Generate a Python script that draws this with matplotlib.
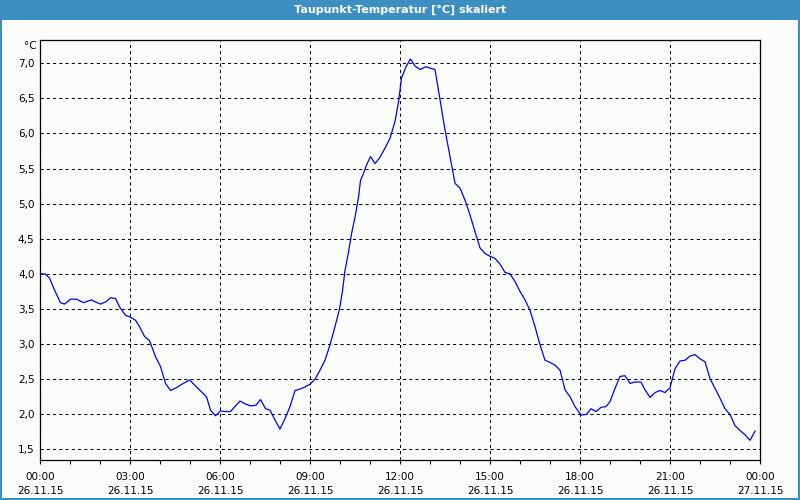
import matplotlib
matplotlib.use("Agg")
import matplotlib.pyplot as plt
from matplotlib.patches import Rectangle
from matplotlib.ticker import FixedLocator, FuncFormatter, MultipleLocator

TITLE = "Taupunkt-Temperatur [°C] skaliert"
UNIT = "°C"

# minutes since 26.11.15 00:00
minutes = [
    0, 10, 19, 29, 41, 49, 61, 73, 87, 103, 111, 121, 131, 141, 151, 159,
    171, 179, 191, 199, 209, 219, 231, 241, 251, 261, 273, 284, 299, 313,
    326, 333, 341, 351, 361, 369, 381, 390, 400, 410, 421, 432, 441, 451,
    460, 470, 480, 490, 500, 510, 520, 530, 540, 550, 560, 570, 580, 590,
    599, 605, 610, 617, 623, 630, 637, 641, 647, 653, 661, 670, 680, 690,
    700, 710, 717, 723, 732, 741, 750, 760, 772, 780, 790, 800, 810, 820,
    830, 840, 850, 860, 870, 880, 890, 900, 910, 920, 930, 940, 950, 960,
    970, 980, 990, 1000, 1010, 1020, 1030, 1040, 1050, 1060, 1070, 1082,
    1093, 1102, 1112, 1122, 1132, 1140, 1150, 1160, 1170, 1180, 1190, 1202,
    1210, 1220, 1230, 1240, 1250, 1260, 1270, 1280, 1290, 1300, 1310, 1320,
    1330, 1340, 1350, 1360, 1370, 1380, 1390, 1400, 1410, 1420, 1430,
]
dewpoint = [
    4.00, 4.00, 3.94, 3.77, 3.59, 3.57, 3.64, 3.64, 3.59, 3.63, 3.60, 3.57,
    3.60, 3.66, 3.65, 3.53, 3.41, 3.39, 3.34, 3.25, 3.11, 3.05, 2.82, 2.68,
    2.44, 2.34, 2.38, 2.43, 2.49, 2.39, 2.30, 2.25, 2.06, 1.98, 2.05, 2.04,
    2.04, 2.11, 2.19, 2.15, 2.12, 2.13, 2.21, 2.08, 2.06, 1.92, 1.79, 1.94,
    2.11, 2.34, 2.36, 2.39, 2.43, 2.50, 2.63, 2.77, 2.99, 3.25, 3.50, 3.76,
    4.05, 4.31, 4.57, 4.81, 5.09, 5.33, 5.43, 5.55, 5.67, 5.57, 5.66, 5.79,
    5.93, 6.17, 6.45, 6.79, 6.95, 7.06, 6.96, 6.91, 6.95, 6.93, 6.91, 6.48,
    6.05, 5.67, 5.29, 5.22, 5.05, 4.84, 4.60, 4.37, 4.29, 4.25, 4.22, 4.14,
    4.02, 4.00, 3.89, 3.75, 3.63, 3.48, 3.25, 2.99, 2.77, 2.74, 2.70, 2.63,
    2.35, 2.25, 2.11, 1.99, 2.00, 2.08, 2.04, 2.10, 2.11, 2.18, 2.37, 2.54,
    2.55, 2.44, 2.46, 2.46, 2.35, 2.24, 2.31, 2.34, 2.31, 2.38, 2.65, 2.76,
    2.77, 2.83, 2.85, 2.79, 2.75, 2.51, 2.37, 2.23, 2.08, 2.00, 1.84, 1.77,
    1.71, 1.63, 1.76,
]

tick_hours = [0, 3, 6, 9, 12, 15, 18, 21, 24]
tick_labels = [
    "00:00\n26.11.15", "03:00\n26.11.15", "06:00\n26.11.15", "09:00\n26.11.15",
    "12:00\n26.11.15", "15:00\n26.11.15", "18:00\n26.11.15", "21:00\n26.11.15",
    "00:00\n27.11.15",
]
y_ticks = [1.5, 2.0, 2.5, 3.0, 3.5, 4.0, 4.5, 5.0, 5.5, 6.0, 6.5, 7.0]

BG = "#fbfdfb"
FRAME = "#3d8fc2"

plt.rcParams["font.family"] = ["DejaVu Sans"]
plt.rcParams["font.size"] = 7.5

fig = plt.figure(figsize=(8, 5), dpi=100, facecolor=BG)

# title bar and frame
fig.patches.append(Rectangle((0, 0.96), 1, 0.04, transform=fig.transFigure,
                             facecolor=FRAME, edgecolor="none", zorder=0))
fig.patches.append(Rectangle((0.001, 0.002), 0.998, 0.997, transform=fig.transFigure,
                             facecolor="none", edgecolor=FRAME, lw=1.5, zorder=1))
fig.text(0.5, 0.98, TITLE, color="white", fontweight="bold", fontsize=8,
         ha="center", va="center")

ax = fig.add_axes([0.05, 0.08, 0.90, 0.84], facecolor=BG)
hours = [m / 60 for m in minutes]
ax.plot(hours, dewpoint, color="#0000ff", lw=0.9, zorder=3)

ax.set_xlim(0, 24)
ax.set_ylim(1.35, 7.33)
ax.xaxis.set_major_locator(FixedLocator(tick_hours))
ax.set_xticklabels(tick_labels, linespacing=1.5)
ax.xaxis.set_minor_locator(MultipleLocator(1))
ax.yaxis.set_major_locator(FixedLocator(y_ticks))
ax.yaxis.set_major_formatter(FuncFormatter(lambda v, _: f"{v:.1f}".replace(".", ",")))

ax.tick_params(axis="x", which="both", direction="out", length=3, width=0.8,
               pad=6, labelsize=7.5)
ax.tick_params(axis="y", length=0, pad=4, labelsize=7.5)
ax.grid(True, which="major", color="black", lw=0.75, linestyle=(0, (3, 3)))
for spine in ax.spines.values():
    spine.set_linewidth(0.9)
    spine.set_color("black")

fig.text(30 / 800, 1 - 46 / 500, UNIT, ha="center", va="center", fontsize=7.5)

fig.savefig("out.png", dpi=100, facecolor=BG)
